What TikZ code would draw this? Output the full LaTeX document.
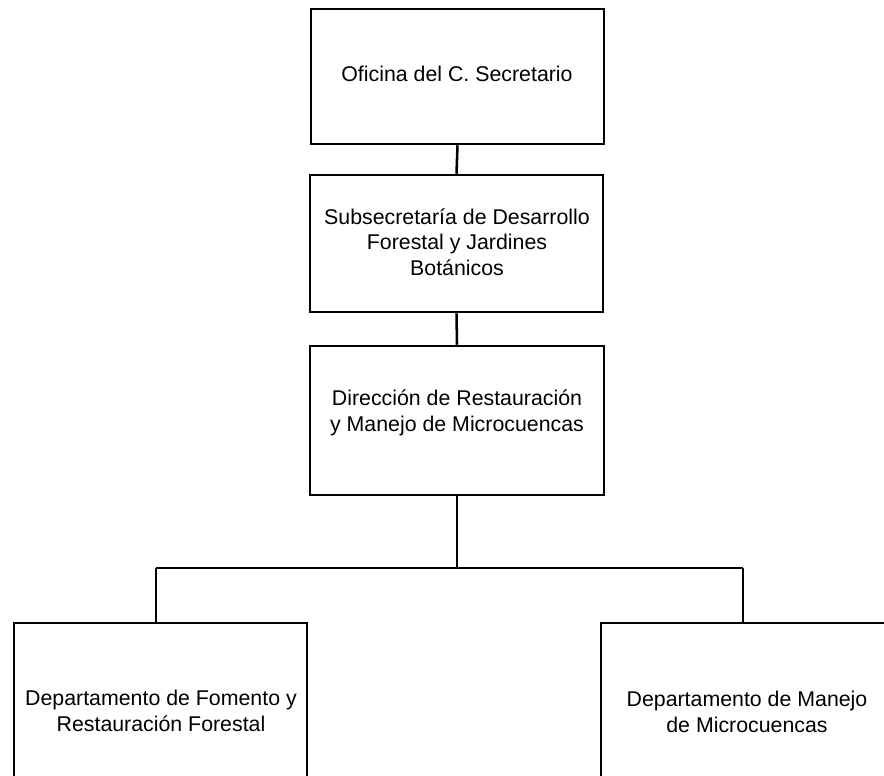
\documentclass[tikz,border=0pt]{standalone}
\usepackage{fontspec}
\setmainfont{Liberation Sans}
\begin{document}
\begin{tikzpicture}[x=0.75pt,y=-0.75pt,
  box/.style={draw=black,line width=1.9pt,rectangle,inner sep=0pt,fill=white},
  lbl/.style={align=center,inner sep=0pt,font=\fontsize{16}{19}\selectfont},
  link/.style={draw=black,line width=1.9pt}]
  \useasboundingbox (0,0) rectangle (884,775);
  \clip (0,0) rectangle (884,775);

  % unit boxes
  \node[box,minimum width=293*0.75pt,minimum height=135*0.75pt] (b1) at (457.5,76.5) {};
  \node[box,minimum width=293*0.75pt,minimum height=137*0.75pt] (b2) at (456.5,243.5) {};
  \node[box,minimum width=294*0.75pt,minimum height=149*0.75pt] (b3) at (457,420.5) {};
  \node[box,minimum width=293*0.75pt,minimum height=174*0.75pt] (b4) at (160.5,710) {};
  \node[box,minimum width=293*0.75pt,minimum height=174*0.75pt] (b5) at (747.5,710) {};

  % unit names
  \node[lbl] (t1) at (457,74) {Oficina del C. Secretario};
  \node[lbl] (t2) at (457,242) {Subsecretaría de Desarrollo\\Forestal y Jardines\\Botánicos};
  \node[lbl] (t3) at (457,413) {Dirección de Restauración\\y Manejo de Microcuencas};
  \node[lbl] (t4) at (161,711) {Departamento de Fomento y\\Restauración Forestal};
  \node[lbl] (t5) at (747,712) {Departamento de Manejo\\de Microcuencas};

  % reporting lines
  \coordinate (lj) at (156,568);
  \coordinate (rj) at (743,568);
  \draw[link] (b1.south) -- (b2.north);
  \draw[link] (b2.south) -- (b3.north);
  \draw[link] (b3.south) -- (b3.south |- lj);
  \draw[link] (lj) -- (rj);
  \draw[link] (lj) -- (lj |- b4.north);
  \draw[link] (rj) -- (rj |- b5.north);
\end{tikzpicture}
\end{document}
